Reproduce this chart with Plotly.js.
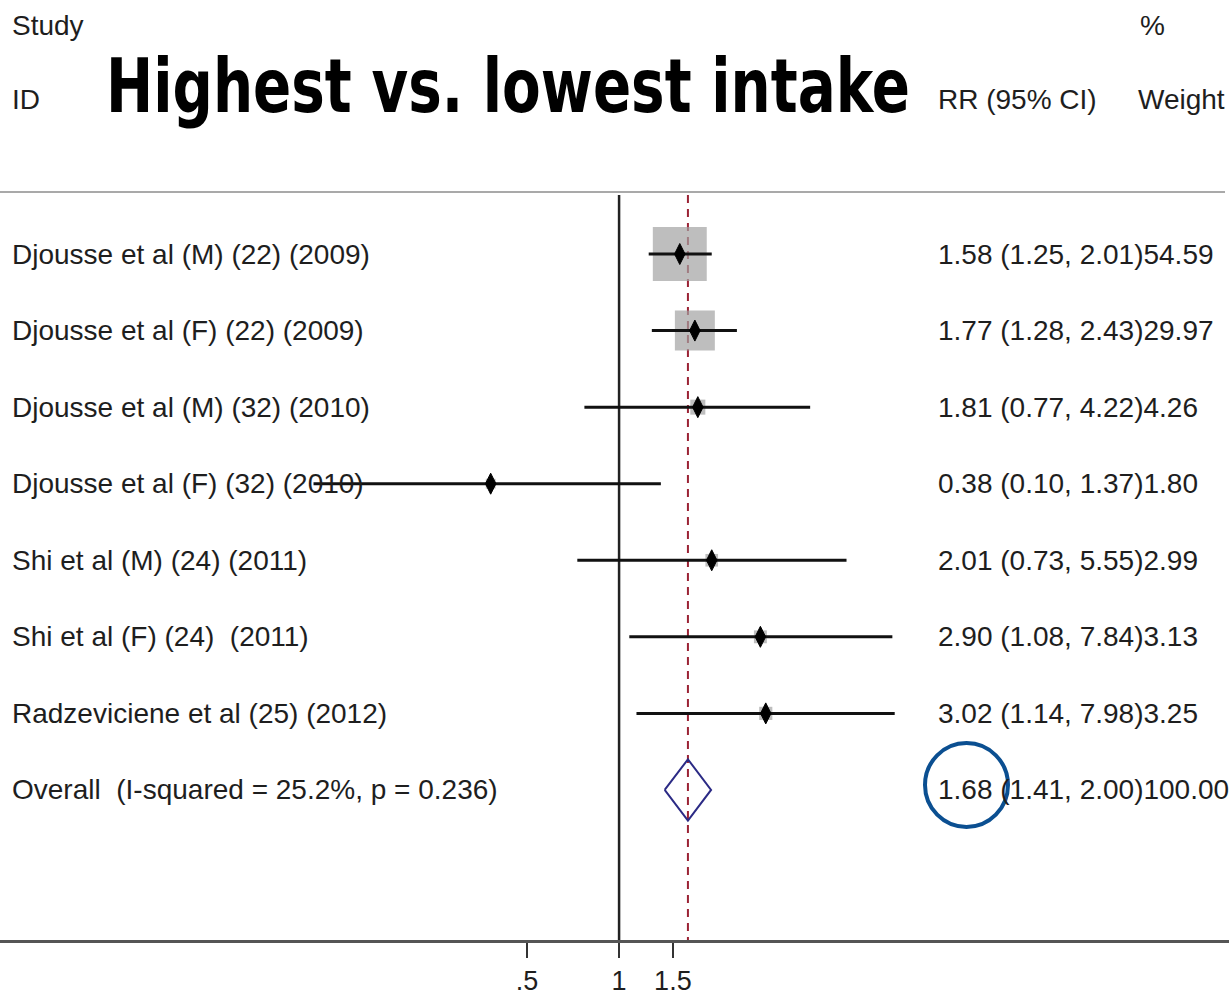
<!DOCTYPE html>
<html>
<head>
<meta charset="utf-8">
<script src="https://cdn.plot.ly/plotly-3.0.1.min.js"></script>
<style>
  html, body { margin: 0; padding: 0; background: #ffffff; }
  #chart { width: 1229px; height: 997px; }
</style>
</head>
<body>
<div id="chart"></div>
<script>
// Study rows, top to bottom
const studies = [
  "Djousse et al (M) (22) (2009)",
  "Djousse et al (F) (22) (2009)",
  "Djousse et al (M) (32) (2010)",
  "Djousse et al (F) (32) (2010)",
  "Shi et al (M) (24) (2011)",
  "Shi et al (F) (24)\u00A0\u00A0(2011)",
  "Radzeviciene et al (25) (2012)"
];
const rr     = [1.58, 1.77, 1.81, 0.38, 2.01, 2.90, 3.02];
const ciLow  = [1.25, 1.28, 0.77, 0.10, 0.73, 1.08, 1.14];
const ciHigh = [2.01, 2.43, 4.22, 1.37, 5.55, 7.84, 7.98];
const weight = [54.59, 29.97, 4.26, 1.80, 2.99, 3.13, 3.25];

// Pooled estimate
const overallLabel = "Overall\u00A0\u00A0(I-squared = 25.2%, p = 0.236)";
const overallRR = 1.68;
const overallLow = 1.41;
const overallHigh = 2.00;
const overallWeight = 100.00;

// Axis ticks
const tickValues = [0.5, 1, 1.5];
const tickLabels = [".5", "1", "1.5"];

const headingText = "Highest vs. lowest intake";

const FONT = "Liberation Sans, Arial, Helvetica, sans-serif";
const TEXT_COLOR = "#1e1e1e";
const TEXT_SIZE = 28;

const rows = studies.map((_, i) => i);
const overallRow = studies.length;
const yTop = -0.77;      // where the vertical reference lines begin
const yBottom = 8.96;    // bottom of the plotting area

const traces = [];

// dashed line through the pooled estimate (drawn under the boxes)
traces.push({
  type: "scatter", mode: "lines",
  x: [overallRR, overallRR], y: [yTop, yBottom],
  line: { color: "#9b2335", width: 2, dash: "8px,6px" },
  hoverinfo: "skip"
});

// line of no effect
traces.push({
  type: "scatter", mode: "lines",
  x: [1, 1], y: [yTop, yBottom],
  line: { color: "#222222", width: 2.5 },
  hoverinfo: "skip"
});

// weight boxes, area proportional to study weight
traces.push({
  type: "scatter", mode: "markers",
  x: rr, y: rows,
  marker: {
    symbol: "square",
    size: weight.map(w => 7.3 * Math.sqrt(w)),
    color: "#a3a3a3",
    line: { width: 0 }
  },
  hoverinfo: "skip"
});

// confidence interval lines
const ciX = [], ciY = [];
rows.forEach(i => {
  ciX.push(ciLow[i], ciHigh[i], null);
  ciY.push(i, i, null);
});
traces.push({
  type: "scatter", mode: "lines",
  x: ciX, y: ciY,
  line: { color: "#111111", width: 3 },
  hoverinfo: "skip"
});

// point estimates
traces.push({
  type: "scatter", mode: "markers",
  x: rr, y: rows,
  marker: { symbol: "diamond-tall", size: 15, color: "#000000",
            line: { color: "#000000", width: 1 } },
  hoverinfo: "skip"
});

// pooled estimate diamond
const dh = 0.4;
traces.push({
  type: "scatter", mode: "lines",
  x: [overallLow, overallRR, overallHigh, overallRR, overallLow],
  y: [overallRow, overallRow - dh, overallRow, overallRow + dh, overallRow],
  line: { color: "#2b2a85", width: 2 },
  hoverinfo: "skip"
});

// pixel -> paper helpers for the fixed 1229x997 canvas
const W = 1229, PLOT_TOP = 192, PLOT_BOTTOM = 940;
const px = v => v / W;
const py = v => (PLOT_BOTTOM - v) / (PLOT_BOTTOM - PLOT_TOP);

const fmt = v => v.toFixed(2);
const annotations = [];

function label(text, xPix, yVal, yref, opts) {
  annotations.push(Object.assign({
    text: text, x: xPix / W, xref: "paper", xanchor: "left",
    y: yVal, yref: yref, yanchor: "middle",
    showarrow: false,
    font: { family: FONT, size: TEXT_SIZE, color: TEXT_COLOR }
  }, opts || {}));
}

// column headers
label("Study", 10, py(25), "paper");
label("ID", 10, py(99), "paper");
label("RR (95% CI)", 936, py(99), "paper");
label("%", 1138, py(25), "paper");
label("Weight", 1136, py(99), "paper");

// big heading (narrowed after drawing, see below)
label(headingText, 104, py(86), "paper", {
  font: { family: "DejaVu Sans, sans-serif", size: 75, color: "#000000", weight: 700 }
});

// study rows
rows.forEach(i => {
  label(studies[i], 10, i, "y");
  label(fmt(rr[i]) + " (" + fmt(ciLow[i]) + ", " + fmt(ciHigh[i]) + ")" + fmt(weight[i]), 936, i, "y");
});
label(overallLabel, 10, overallRow, "y");
label(fmt(overallRR) + " (" + fmt(overallLow) + ", " + fmt(overallHigh) + ")" + fmt(overallWeight), 936, overallRow, "y");

const shapes = [
  // rule under the header
  { type: "line", xref: "paper", yref: "paper", x0: 0, x1: px(1225), y0: 1, y1: 1,
    line: { color: "#a9a9a9", width: 2 } },
  // circle highlighting the pooled RR
  { type: "circle", xref: "paper", yref: "paper",
    x0: px(925), x1: px(1008), y0: py(827), y1: py(743),
    line: { color: "#0b4f91", width: 4 } }
];

const layout = {
  width: 1229, height: 997,
  margin: { l: 0, r: 0, t: PLOT_TOP, b: 997 - PLOT_BOTTOM, pad: 0 },
  paper_bgcolor: "#ffffff", plot_bgcolor: "#ffffff",
  showlegend: false,
  font: { family: FONT, size: TEXT_SIZE, color: TEXT_COLOR },
  xaxis: {
    type: "log",
    range: [-2.026, 1.996],
    showgrid: false, zeroline: false,
    showline: true, linecolor: "#555555", linewidth: 3,
    ticks: "outside", ticklen: 15, tickwidth: 2, tickcolor: "#333333",
    tickvals: tickValues, ticktext: tickLabels,
    tickfont: { family: FONT, size: 27, color: TEXT_COLOR },
    ticklabelstandoff: 0,
    fixedrange: true
  },
  yaxis: {
    range: [yBottom, -0.81],
    visible: false, showgrid: false, zeroline: false,
    fixedrange: true
  },
  annotations: annotations,
  shapes: shapes
};

// squeeze the heading horizontally into a condensed display face
const HEADING_WIDTH = 804;
Plotly.newPlot("chart", traces, layout, { displayModeBar: false, staticPlot: true }).then(gd => {
  gd.querySelectorAll(".annotation-text").forEach(t => {
    if (t.textContent === headingText) {
      const bb = t.getBBox();
      const s = HEADING_WIDTH / bb.width;
      t.setAttribute("transform", "translate(" + (bb.x * (1 - s)) + ",0) scale(" + s + ",1)");
    }
  });
});
</script>
</body>
</html>
